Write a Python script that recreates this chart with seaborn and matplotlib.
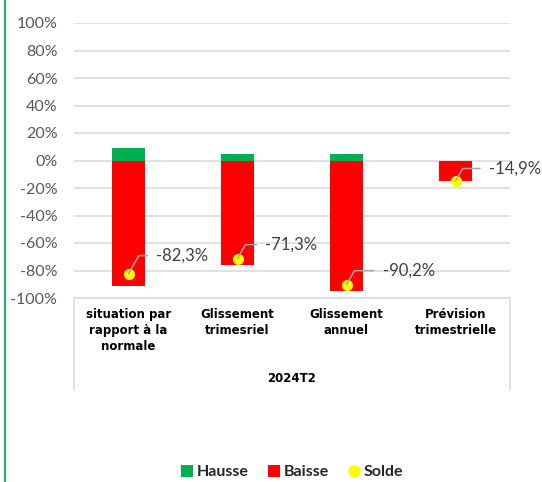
import matplotlib
matplotlib.use("Agg")
import matplotlib.pyplot as plt
import seaborn as sns
import pandas as pd
from matplotlib.lines import Line2D
from matplotlib.ticker import FuncFormatter, MultipleLocator

# ---- data ----
categories = ["situation par\nrapport à la\nnormale", "Glissement\ntrimesriel",
              "Glissement\nannuel", "Prévision\ntrimestrielle"]
hausse = [8.8, 5.0, 5.0, 0.0]
baisse = [-91.1, -76.3, -95.2, -14.9]
solde = [-82.3, -71.3, -90.2, -14.9]
group_label = "2024T2"
series_names = ["Hausse", "Baisse", "Solde"]

df = pd.DataFrame({"cat": categories, "Hausse": hausse, "Baisse": baisse, "Solde": solde})

GREEN = "#00B050"
RED = "#FF0000"
YELLOW = "#FFFF00"

sns.set_theme(style="white")
plt.rcParams["font.family"] = ["Lato", "DejaVu Sans"]

W, H = 542, 482
fig = plt.figure(figsize=(W / 100, H / 100), dpi=100)
L, R, T, B = 74, 510, 23, 298
ax = fig.add_axes([L / W, 1 - B / H, (R - L) / W, (B - T) / H])

sns.barplot(data=df, x="cat", y="Hausse", color=GREEN, width=0.31, ax=ax,
            saturation=1, linewidth=0, zorder=3)
sns.barplot(data=df, x="cat", y="Baisse", color=RED, width=0.31, ax=ax,
            saturation=1, linewidth=0, zorder=3)
sns.stripplot(data=df, x="cat", y="Solde", jitter=False, color=YELLOW, size=8,
              linewidth=0, ax=ax, zorder=5)

ax.set_ylim(-100, 100)
ax.set_xlim(-0.5, len(categories) - 0.5)
ax.yaxis.set_major_locator(MultipleLocator(20))
ax.yaxis.set_major_formatter(FuncFormatter(lambda v, p: f"{v:.0f}%"))
ax.grid(axis="y", color="#D9D9D9", linewidth=1.1, zorder=0)
ax.set_axisbelow(True)
for s in ax.spines.values():
    s.set_visible(False)
ax.set_xlabel("")
ax.set_ylabel("")
ax.tick_params(axis="y", length=0, pad=12, labelsize=11.5, labelcolor="#595959")
ax.tick_params(axis="x", length=0, pad=7)
ax.set_xticks(range(len(categories)))
ax.set_xticklabels(categories, fontsize=8.5, fontweight="bold", color="black",
                   linespacing=1.3, va="top", family=["DejaVu Sans"])

# category axis frame (Excel multi-level style)
frame_kw = dict(color="#D9D9D9", linewidth=1.1, transform=ax.transAxes, clip_on=False)
ax.plot([0, 1], [0, 0], **frame_kw)
ax.plot([0, 0], [0, -0.335], **frame_kw)
ax.plot([1, 1], [0, -0.335], **frame_kw)
ax.text(0.5, -0.293, group_label, transform=ax.transAxes, ha="center", va="center",
        fontsize=8.5, fontweight="bold", color="black", family=["DejaVu Sans"])

# data labels with leader lines
offsets = [(20, 13), (20, 10), (26, 10), (24, 9)]
for i, v in enumerate(solde):
    dx, dy = offsets[i]
    ax.annotate(f"{v:.1f}%".replace(".", ","), xy=(i, v), xytext=(dx, dy),
                textcoords="offset points", ha="left", va="center",
                fontsize=12, color="#404040", zorder=6,
                arrowprops=dict(arrowstyle="-", color="#A6A6A6", lw=1.1,
                                connectionstyle="angle,angleA=0,angleB=60",
                                relpos=(0, 0.5), shrinkA=4, shrinkB=0))

# legend
handles = [
    Line2D([0], [0], marker="s", linestyle="none", markersize=8.5,
           markerfacecolor=GREEN, markeredgewidth=0),
    Line2D([0], [0], marker="s", linestyle="none", markersize=8.5,
           markerfacecolor=RED, markeredgewidth=0),
    Line2D([0], [0], marker="o", linestyle="none", markersize=9,
           markerfacecolor=YELLOW, markeredgewidth=0),
]
fig.legend(handles, series_names, loc="center", bbox_to_anchor=(292 / W, 1 - 472 / H),
           ncol=3, frameon=False, prop={"size": 11.5, "weight": "bold"},
           handlelength=0.8, handletextpad=0.2, columnspacing=1.2)

# left green border
fig.add_artist(Line2D([4.5 / W, 4.5 / W], [0, 1], color=GREEN, linewidth=1.3,
                      transform=fig.transFigure))

fig.savefig("out.png", dpi=100)
